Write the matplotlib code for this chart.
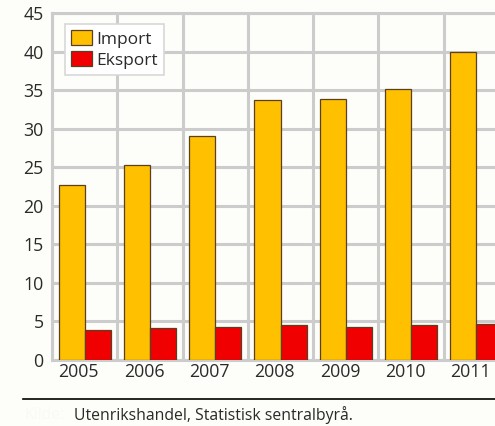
#!/usr/bin/env python
"""
Import og eksport, 2005-2011 (søylediagram).
"""
import matplotlib
matplotlib.use('Agg')
import matplotlib.pyplot as plt
import numpy as np

years = ['2005', '2006', '2007', '2008', '2009', '2010', '2011']
import_values = [22.7, 25.3, 29.1, 33.7, 33.8, 35.2, 39.9]
export_values = [3.9, 4.1, 4.3, 4.5, 4.3, 4.6, 4.7]
series_labels = ['Import', 'Eksport']
y_ticks = [0, 5, 10, 15, 20, 25, 30, 35, 40, 45]
source_text = 'Utenrikshandel, Statistisk sentralbyrå.'

plt.rcParams['font.family'] = ['Open Sans', 'DejaVu Sans']

background = '#fdfdfa'
grid_color = '#cccccc'
edge_color = '#5a3f22'
text_color = '#2a2a2a'

fig = plt.figure(figsize=(4.95, 4.26), dpi=100, facecolor=background)
ax = fig.add_axes([52 / 495, 66 / 426, 7 * 65.3 / 495, 347 / 426])
ax.set_facecolor(background)

x = np.arange(len(years))
width = 0.4
ax.bar(x - width / 2, import_values, width, color='#ffc000',
       edgecolor=edge_color, linewidth=0.9, label=series_labels[0], zorder=3)
ax.bar(x + width / 2, export_values, width, color='#f00000',
       edgecolor=edge_color, linewidth=0.9, label=series_labels[1], zorder=3)

ax.set_xlim(-0.5, len(years) - 0.5)
ax.set_ylim(0, 45)
ax.set_yticks(y_ticks)
# year labels start at the left edge of each group, as in the original
ax.set_xticks(x - width)
ax.set_xticklabels(years, ha='left')
ax.set_xticks(np.arange(len(years) + 1) - 0.5, minor=True)
ax.tick_params(axis='both', which='both', length=0, labelsize=12.8,
               colors=text_color)
ax.tick_params(axis='y', pad=6)
ax.tick_params(axis='x', pad=2)
ax.grid(True, axis='y', which='major', color=grid_color, linewidth=2.2,
        zorder=0)
ax.grid(True, axis='x', which='minor', color=grid_color, linewidth=2.2,
        zorder=0)
for spine in ax.spines.values():
    spine.set_color(grid_color)
    spine.set_linewidth(2.2)

legend = ax.legend(loc='upper left', bbox_to_anchor=(0.028, 0.968),
                   fontsize=12.5, frameon=True, fancybox=False,
                   edgecolor='#d8d8d8', facecolor='white', framealpha=1,
                   handlelength=1.2, handleheight=0.95, handletextpad=0.25,
                   borderpad=0.35, labelspacing=0.2, borderaxespad=0)
legend.get_frame().set_linewidth(1.2)
for text in legend.get_texts():
    text.set_color(text_color)

fig.add_artist(plt.Line2D([23 / 495, 1.0], [1 - 399 / 426, 1 - 399 / 426],
                          color='black', linewidth=1.2))
fig.text(25 / 495, 1 - 415 / 426, 'Kilde:', fontsize=11.3, color='#f9f9f6',
         va='center')
fig.text(74 / 495, 1 - 415 / 426, source_text, fontsize=11.3,
         color=text_color, va='center')

fig.savefig('out.png', dpi=100, facecolor=background)
